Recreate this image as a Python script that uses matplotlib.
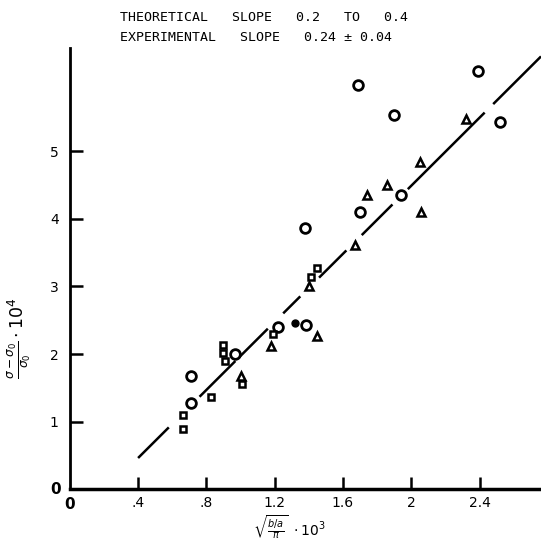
"""
Recreates the scanned slope chart: measured points against a fitted line.
"""

import matplotlib
matplotlib.use("Agg")
import matplotlib.pyplot as plt


circle_x = [1.69, 2.39, 1.90, 2.52, 1.375, 1.70, 1.94, 1.22, 1.385, 0.97, 0.71, 0.71]
circle_y = [5.99, 6.19, 5.54, 5.44, 3.86, 4.10, 4.36, 2.40, 2.43, 2.00, 1.27, 1.68]

triangle_x = [2.32, 2.05, 2.06, 1.86, 1.67, 1.45, 1.18, 1.40, 1.00, 1.74]
triangle_y = [5.48, 4.84, 4.10, 4.50, 3.61, 2.27, 2.12, 3.00, 1.68, 4.35]

square_x = [1.45, 1.41, 0.90, 0.90, 0.91, 1.01, 0.83, 0.665, 0.665, 1.19]
square_y = [3.27, 3.14, 2.13, 2.01, 1.89, 1.55, 1.36, 1.09, 0.89, 2.30]

filled_x = [1.32]
filled_y = [2.46]

# fitted line y = a + b * (x - 0.4), drawn in pieces (gaps round the markers)
fit_start = 0.46
fit_slope = 2.52
fit_pieces = [(0.40, 0.58), (0.76, 0.97), (0.99, 1.16), (1.25, 1.35),
              (1.46, 1.62), (1.71, 1.89), (1.98, 2.43), (2.48, 2.76)]

x_ticks = [0.4, 0.8, 1.2, 1.6, 2.0, 2.4]
x_tick_labels = [".4", ".8", "1.2", "1.6", "2", "2.4"]
y_ticks = [1, 2, 3, 4, 5]
y_tick_labels = ["1", "2", "3", "4", "5"]


def fit_value(x):
    return fit_start + fit_slope * (x - 0.4)


def main():
    fig = plt.figure(figsize=(5.41, 5.41), dpi=100)
    ax = fig.add_axes([0.129, 0.096, 0.871, 0.815])

    # fitted line in pieces
    for x0, x1 in fit_pieces:
        ax.plot([x0, x1], [fit_value(x0), fit_value(x1)], color="black", lw=1.8,
                solid_capstyle="butt")

    # measured points
    ax.plot(circle_x, circle_y, "o", ms=7, mfc="white", mec="black", mew=2.0,
            linestyle="none")
    ax.plot(triangle_x, triangle_y, "^", ms=5.5, mfc="white", mec="black", mew=1.8,
            linestyle="none")
    ax.plot(square_x, square_y, "s", ms=4.5, mfc="white", mec="black", mew=1.8,
            linestyle="none")
    ax.plot(filled_x, filled_y, "o", ms=5, color="black", linestyle="none")

    ax.set_xlim(0, 2.76)
    ax.set_ylim(0, 6.53)

    # only the left and bottom axis lines
    ax.spines["top"].set_visible(False)
    ax.spines["right"].set_visible(False)
    ax.spines["left"].set_linewidth(2)
    ax.spines["bottom"].set_linewidth(2.5)

    ax.set_xticks(x_ticks)
    ax.set_xticklabels(x_tick_labels)
    ax.set_yticks(y_ticks)
    ax.set_yticklabels(y_tick_labels)
    ax.tick_params(axis="both", direction="in", length=9, width=1.8,
                   labelsize=10, colors="black")
    ax.tick_params(axis="x", pad=5)
    ax.tick_params(axis="y", pad=8)

    # the zeros at the origin
    ax.text(0, -0.12, "0", ha="center", va="top", fontsize=11, fontweight="bold")
    ax.text(-0.05, 0, "0", ha="right", va="center", fontsize=11, fontweight="bold")

    # axis labels
    fig.text(0.535, 0.026, r"$\sqrt{\frac{b/a}{\pi}}\ \cdot 10^3$", ha="center",
             va="center", fontsize=10)
    fig.text(0.035, 0.375, r"$\frac{\sigma - \sigma_0}{\sigma_0}\cdot 10^4$",
             ha="center", va="center", rotation=90, fontsize=12.5)

    # header lines
    fig.text(0.222, 0.968, "THEORETICAL   SLOPE   0.2   TO   0.4", ha="left",
             va="center", fontsize=9.5, family="DejaVu Sans Mono")
    fig.text(0.222, 0.93, "EXPERIMENTAL   SLOPE   0.24 \u00b1 0.04", ha="left",
             va="center", fontsize=9.5, family="DejaVu Sans Mono")

    fig.savefig("out.png", dpi=100, facecolor="white")


if __name__ == "__main__":
    main()
